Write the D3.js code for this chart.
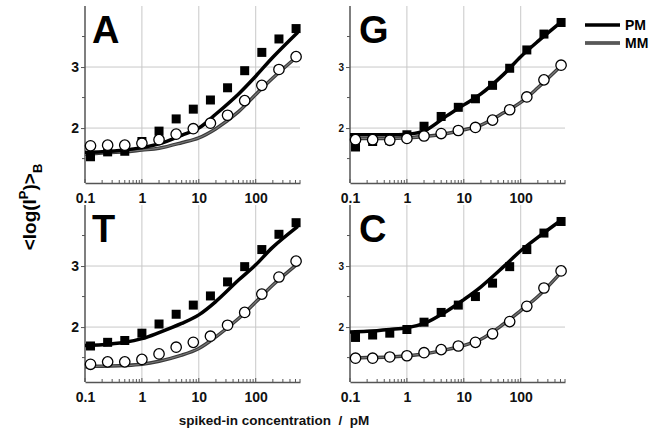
<!DOCTYPE html>
<html><head><meta charset="utf-8">
<script src="https://cdn.jsdelivr.net/npm/d3@7"></script>
<style>body{margin:0;background:#fff}svg{display:block;font-family:Arial,"Liberation Sans",sans-serif}</style>
</head><body><svg id="c" width="667" height="435"></svg>
<script>
const conc = [0.125,0.25,0.5,1,2,4,8,16,32,64,128,256,512];
const fitX = [0.1,0.2,0.5,1,2,5,10,20,50,100,200,550];
const xTicks = [0.1,1,10,100];
const yTicks = [2,3];
const panels = ["A","G","T","C"];
const pmA = [1.53,1.61,1.62,1.78,1.95,2.15,2.31,2.46,2.66,2.94,3.24,3.46,3.63];
const mmA = [1.71,1.72,1.72,1.75,1.81,1.90,1.99,2.08,2.21,2.45,2.70,2.96,3.17];
const pmG = [1.69,1.78,1.80,1.89,2.03,2.19,2.34,2.48,2.70,2.98,3.28,3.54,3.73];
const mmG = [1.81,1.81,1.80,1.83,1.87,1.91,1.96,2.01,2.13,2.30,2.51,2.79,3.03];
const pmT = [1.69,1.75,1.78,1.90,2.05,2.21,2.36,2.51,2.74,2.99,3.27,3.52,3.71];
const mmT = [1.39,1.43,1.43,1.47,1.56,1.67,1.75,1.85,2.03,2.24,2.54,2.82,3.08];
const pmC = [1.83,1.87,1.90,1.96,2.08,2.24,2.36,2.50,2.72,2.99,3.27,3.54,3.73];
const mmC = [1.49,1.49,1.51,1.53,1.58,1.63,1.69,1.75,1.89,2.09,2.34,2.64,2.92];
const fitPmA = [1.60,1.61,1.64,1.68,1.74,1.88,2.00,2.23,2.56,2.85,3.16,3.57];
const fitMmA = [1.57,1.59,1.61,1.64,1.67,1.76,1.84,1.99,2.27,2.55,2.82,3.18];
const fitPmG = [1.89,1.89,1.89,1.90,1.95,2.20,2.38,2.56,2.88,3.17,3.42,3.76];
const fitMmG = [1.83,1.83,1.83,1.84,1.86,1.91,1.97,2.05,2.25,2.42,2.66,3.05];
const fitPmT = [1.70,1.71,1.75,1.81,1.91,2.06,2.20,2.42,2.77,3.02,3.31,3.65];
const fitMmT = [1.35,1.36,1.37,1.39,1.44,1.54,1.65,1.84,2.14,2.41,2.69,3.04];
const fitPmC = [1.92,1.93,1.96,1.99,2.06,2.26,2.45,2.66,2.99,3.25,3.47,3.77];
const fitMmC = [1.49,1.50,1.51,1.53,1.56,1.63,1.70,1.80,2.05,2.27,2.50,2.93];
const legendLabels = ["PM","MM"];

const pm = {A:pmA,G:pmG,T:pmT,C:pmC}, mm = {A:mmA,G:mmG,T:mmT,C:mmC};
const fpm = {A:fitPmA,G:fitPmG,T:fitPmT,C:fitPmC}, fmm = {A:fitMmA,G:fitMmG,T:fitMmT,C:fitMmC};
const layout = {A:{x0:85,y0:183,y1:6,right:false},G:{x0:350,y0:183,y1:6,right:true},
                T:{x0:85,y0:382,y1:205,right:false},C:{x0:350,y0:382,y1:205,right:true}};
const W = 215;
const svg = d3.select("#c");
const gridCol="#c8c8c8", axisCol="#555";

panels.forEach(p=>{
  const L = layout[p];
  const x = d3.scaleLog().domain([0.1,600]).range([L.x0, L.x0+W]);
  const y = d3.scaleLinear().domain([1.1,4.0]).range([L.y0, L.y1]);
  const g = svg.append("g");
  xTicks.slice(1).forEach(t=>g.append("line").attr("x1",x(t)).attr("x2",x(t)).attr("y1",y(1.1)).attr("y2",y(4.0)).attr("stroke",gridCol).attr("stroke-width",1));
  yTicks.forEach(t=>g.append("line").attr("x1",x(0.1)).attr("x2",x(600)).attr("y1",y(t)).attr("y2",y(t)).attr("stroke",gridCol).attr("stroke-width",1));
  const xa = g.append("g").attr("transform",`translate(0,${L.y0})`)
    .call(d3.axisBottom(x).tickValues(xTicks).tickFormat(d=>String(d)).tickSize(0).tickPadding(10));
  xa.select(".domain").attr("stroke",axisCol).attr("stroke-width",1.5);
  xa.selectAll("text").attr("font-size",14).attr("font-weight","bold").attr("fill","#111");
  const minors=[];
  [0.1,1,10,100].forEach(d=>{for(let k=2;k<=9;k++){const v=d*k; if(v<=600) minors.push(v);}});
  minors.concat(xTicks).forEach(v=>g.append("line").attr("x1",x(v)).attr("x2",x(v)).attr("y1",L.y0).attr("y2",L.y0-(xTicks.includes(v)?4:3)).attr("stroke",axisCol).attr("stroke-width",1));
  const ya = g.append("g").attr("transform",`translate(${L.x0},0)`)
    .call(d3.axisLeft(y).tickValues(yTicks).tickFormat(d3.format("d")).tickSize(4).tickPadding(2));
  ya.select(".domain").attr("stroke",axisCol).attr("stroke-width",1.5).attr("d",`M0,${L.y0}V${L.y1}`);
  ya.selectAll(".tick line").attr("stroke",axisCol);
  ya.selectAll("text").attr("font-size",L.right?10:14).attr("font-weight","bold").attr("fill","#111");
  [1.5,2.5,3.5].forEach(v=>g.append("line").attr("x1",L.x0-3).attr("x2",L.x0).attr("y1",y(v)).attr("y2",y(v)).attr("stroke",axisCol).attr("stroke-width",1));
  const line = d3.line().x((d,i)=>x(fitX[i])).y(d=>y(d)).curve(d3.curveCatmullRom.alpha(0.5));
  g.append("path").attr("d",line(fmm[p])).attr("fill","none").attr("stroke","#3a3a3a").attr("stroke-width",3.5);
  g.append("path").attr("d",line(fmm[p])).attr("fill","none").attr("stroke","#777").attr("stroke-width",1.2);
  g.append("path").attr("d",line(fpm[p])).attr("fill","none").attr("stroke","#000").attr("stroke-width",3.5);
  const s=9;
  g.selectAll(null).data(pm[p]).enter().append("rect")
    .attr("x",(d,i)=>x(conc[i])-s/2).attr("y",d=>y(d)-s/2).attr("width",s).attr("height",s).attr("fill","#000");
  g.selectAll(null).data(mm[p]).enter().append("circle")
    .attr("cx",(d,i)=>x(conc[i])).attr("cy",d=>y(d)).attr("r",5.2).attr("fill","#fff").attr("stroke","#000").attr("stroke-width",1.3);
  g.append("text").attr("x",L.x0+(L.right?9:7)).attr("y",L.y1+37).text(p)
    .attr("font-size",38).attr("font-weight","bold").attr("fill","#000");
});

legendLabels.forEach((t,i)=>{
  const yy = 25+18*i;
  if(i===0){
    svg.append("line").attr("x1",585).attr("x2",620).attr("y1",yy).attr("y2",yy).attr("stroke","#000").attr("stroke-width",3.5);
  } else {
    svg.append("line").attr("x1",585).attr("x2",620).attr("y1",yy).attr("y2",yy).attr("stroke","#3a3a3a").attr("stroke-width",3.5);
    svg.append("line").attr("x1",585).attr("x2",620).attr("y1",yy).attr("y2",yy).attr("stroke","#777").attr("stroke-width",1.2);
  }
  svg.append("text").attr("x",625).attr("y",yy+5).text(t).attr("font-size",14).attr("font-weight","bold").attr("fill","#000");
});

const yl = svg.append("text").attr("transform","translate(36,207) rotate(-90)").attr("text-anchor","middle")
  .attr("font-size",19).attr("font-weight","bold").attr("fill","#000");
yl.append("tspan").text("<log(I");
yl.append("tspan").text("P").attr("font-size",13).attr("dy",-8);
yl.append("tspan").text(")>").attr("dy",8);
yl.append("tspan").text("B").attr("font-size",13).attr("dy",6);

svg.append("text").attr("x",274).attr("y",425).attr("text-anchor","middle").attr("font-size",13.5)
  .attr("font-weight","bold").attr("fill","#111").attr("xml:space","preserve").text("spiked-in concentration  /  pM");
</script></body></html>
